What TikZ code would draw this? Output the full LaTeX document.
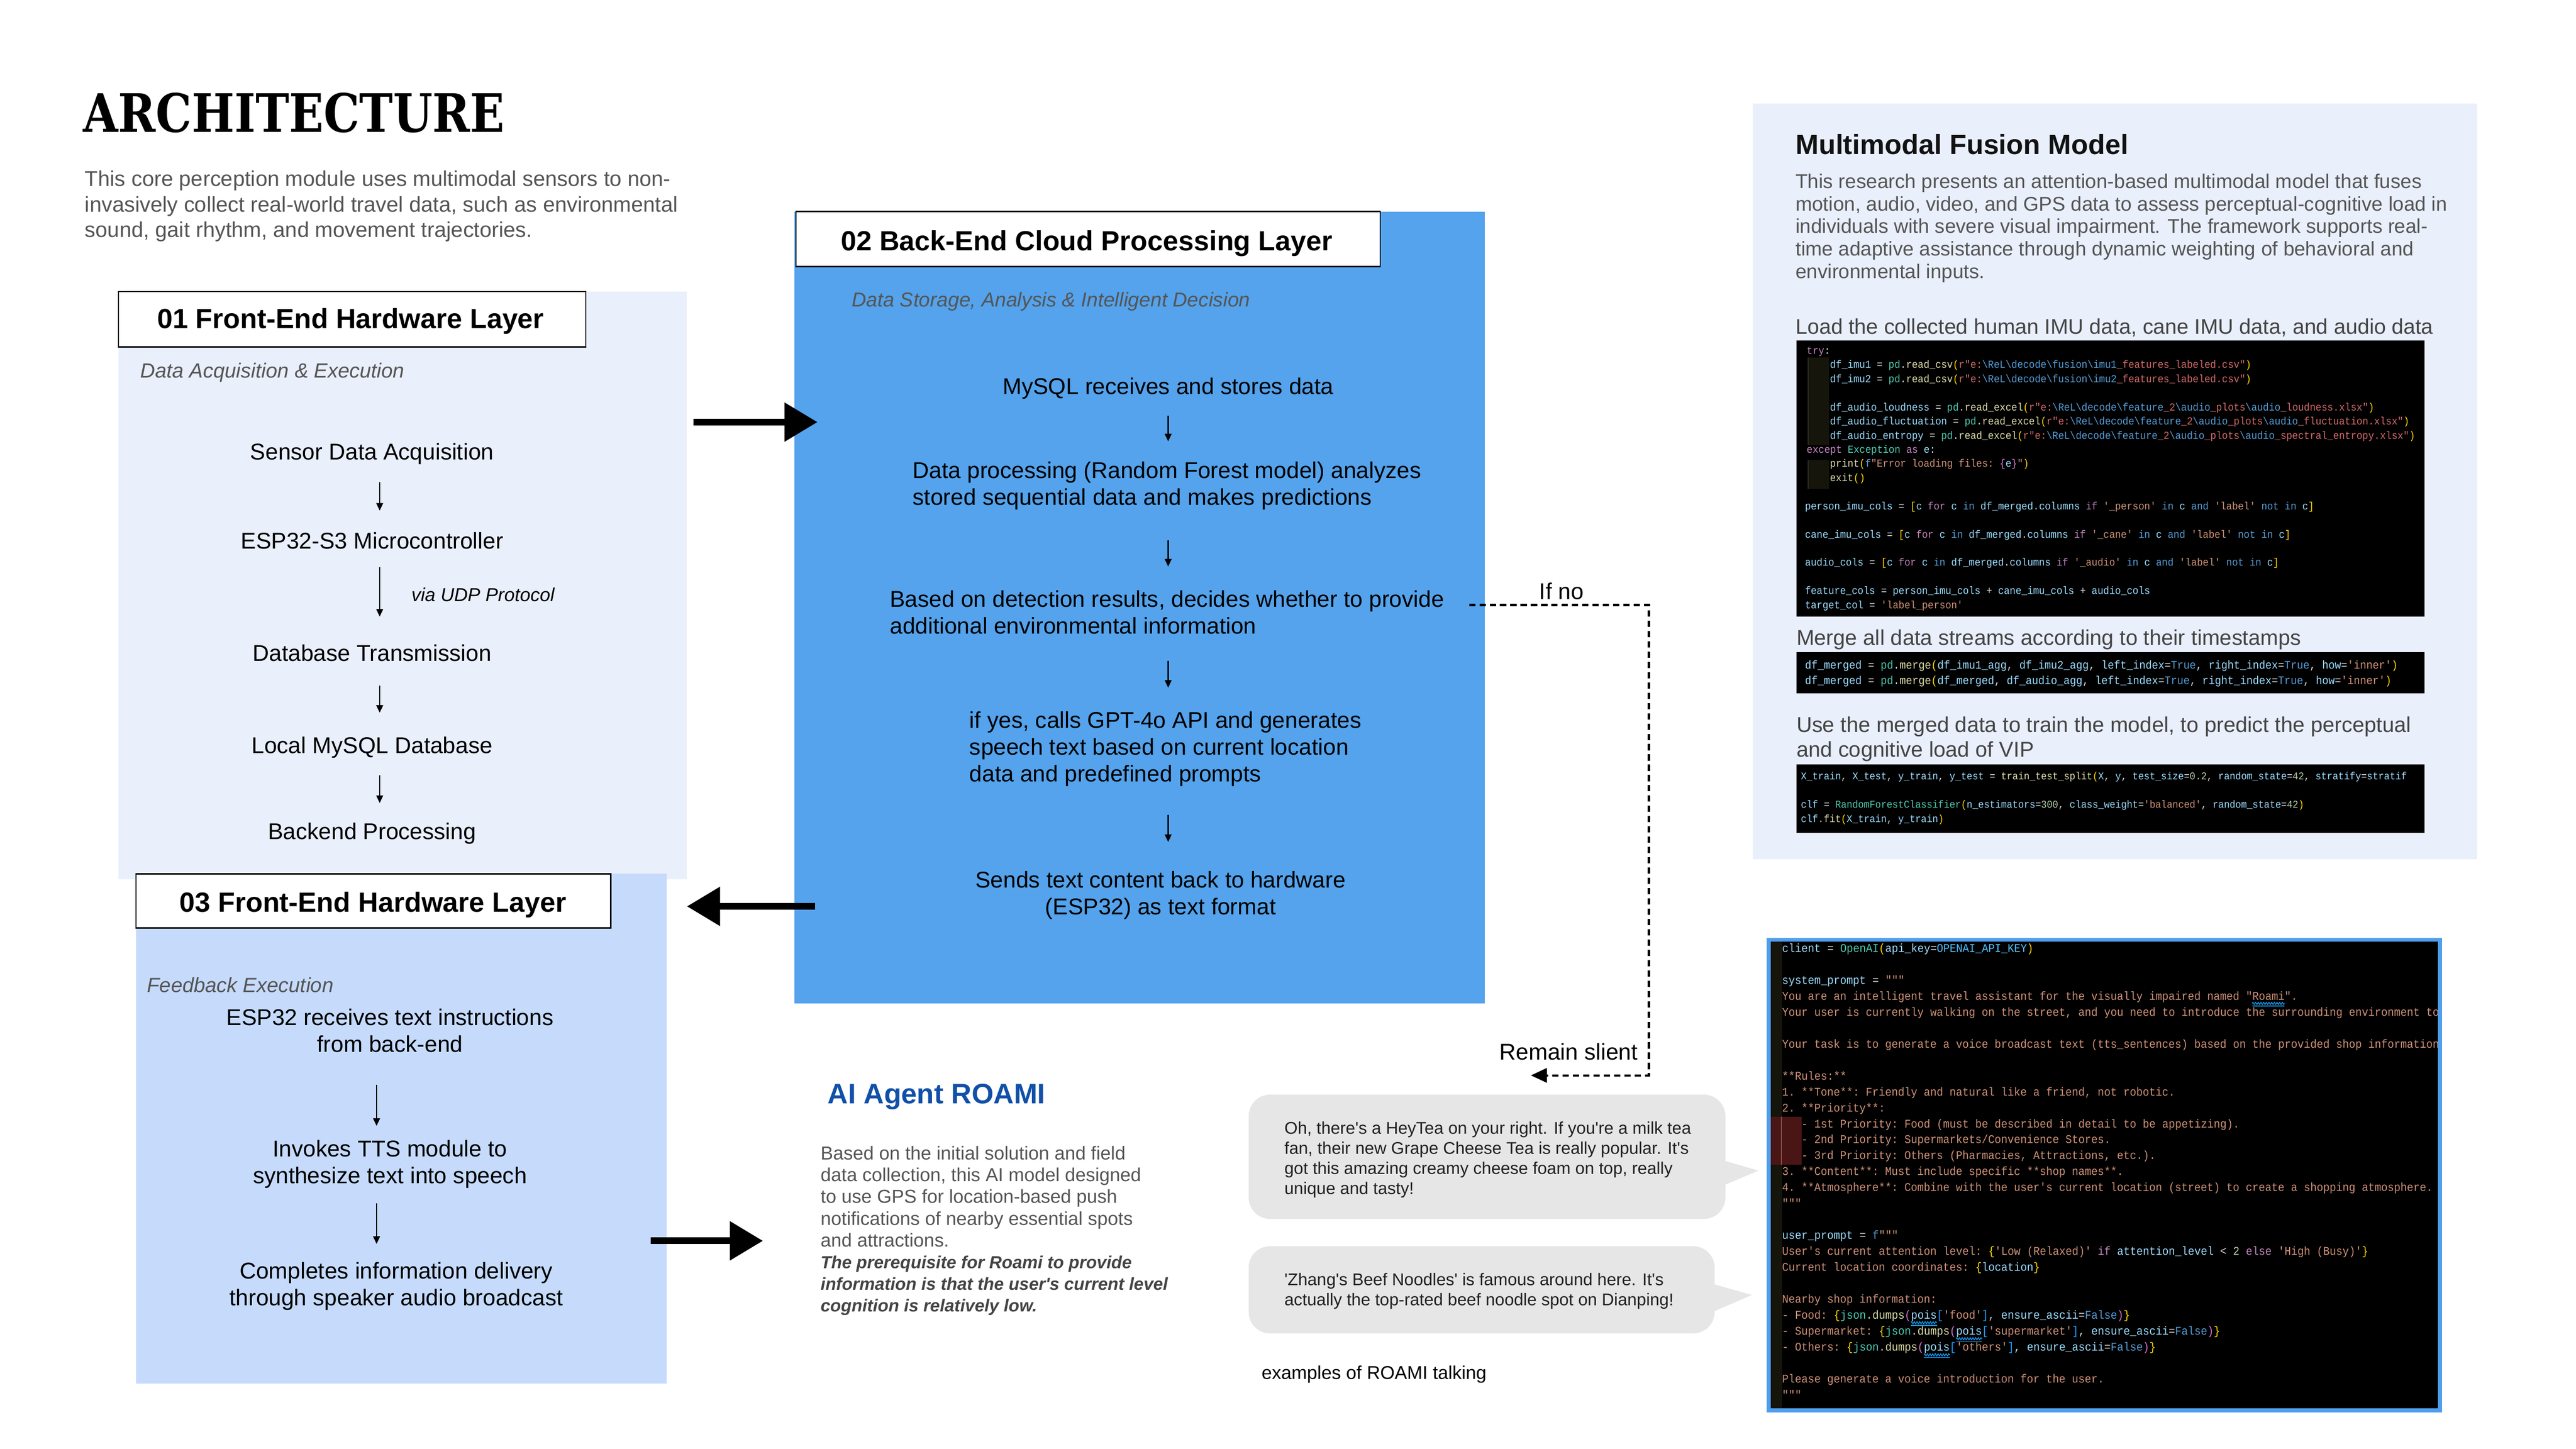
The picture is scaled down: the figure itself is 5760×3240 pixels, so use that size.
\documentclass[tikz,border=0pt]{standalone}
\usepackage{fontspec}
\defaultfontfeatures[\rmfamily,\sffamily]{}
\setmainfont{Liberation Sans}
\setmonofont{Liberation Mono}
\newfontfamily\slabfont{DejaVu Serif}
\usepackage{graphicx}
\usetikzlibrary{arrows.meta,decorations.pathmorphing}

\definecolor{pLight}{HTML}{E9EFFB}
\definecolor{pMid}{HTML}{C6DBFC}
\definecolor{pBlue}{HTML}{54A3EC}
\definecolor{cBorder}{HTML}{4F9FEE}
\definecolor{bub}{HTML}{E6E6E6}
\definecolor{tgray}{HTML}{555555}
\definecolor{tgray2}{HTML}{444444}
\definecolor{aiblue}{HTML}{1150A8}
\definecolor{cvar}{HTML}{9CDCFE}
\definecolor{cfun}{HTML}{DCDCAA}
\definecolor{ccls}{HTML}{4EC9B0}
\definecolor{cstr}{HTML}{CE9178}
\definecolor{creg}{HTML}{D16969}
\definecolor{ckw}{HTML}{C586C0}
\definecolor{cblu}{HTML}{569CD6}
\definecolor{cnum}{HTML}{B5CEA8}
\definecolor{cbya}{HTML}{FFD700}
\definecolor{cbpu}{HTML}{DA70D6}
\definecolor{cbbl}{HTML}{179FFF}
\definecolor{cop}{HTML}{D4D4D4}
\definecolor{cconst}{HTML}{4FC1FF}
\definecolor{cgut}{HTML}{15150B}
\definecolor{cguide}{HTML}{404040}
\definecolor{chl}{HTML}{4A1515}
\definecolor{chll}{HTML}{B07070}

\newcommand\kV[1]{\textcolor{cvar}{#1}}
\newcommand\kF[1]{\textcolor{cfun}{#1}}
\newcommand\kC[1]{\textcolor{ccls}{#1}}
\newcommand\kS[1]{\textcolor{cstr}{#1}}
\newcommand\kR[1]{\textcolor{creg}{#1}}
\newcommand\kK[1]{\textcolor{ckw}{#1}}
\newcommand\kB[1]{\textcolor{cblu}{#1}}
\newcommand\kN[1]{\textcolor{cnum}{#1}}
\newcommand\kY[1]{\textcolor{cbya}{#1}}
\newcommand\kP[1]{\textcolor{cbpu}{#1}}
\newcommand\kL[1]{\textcolor{cbbl}{#1}}
\newcommand\kU[1]{\textcolor{cconst}{#1}}
\newcommand\kbs{\textbackslash}
\newcount\clcnt
\newcommand\cln[3]{\global\advance\clcnt by 1\relax\node[code] (cl\the\clcnt) at (#1,#2) {\scalebox{1}[1.1]{#3}};}
\newcommand\vconn[4]{\coordinate (#1a) at (#2,#3);\coordinate (#1b) at (#2,#4);\draw[smallarrow] (#1a) -- (#1b);}

\tikzset{
  every node/.style={inner sep=0pt, outer sep=0pt},
  panel/.style={anchor=north west},
  titlebox/.style={draw=black, line width=3pt, fill=white, anchor=north west},
  layertitle/.style={anchor=base, font=\fontsize{62}{72}\selectfont\bfseries, text=black},
  body/.style={font=\fontsize{51}{60}\selectfont, text=black},
  bodyc/.style={body, anchor=base, align=center},
  bodyl/.style={body, anchor=base west, align=left},
  subtitle/.style={anchor=base west, font=\fontsize{46}{54}\selectfont\itshape, text=tgray},
  smallarrow/.style={line width=3pt, -{Triangle[length=17pt,width=15pt]}},
  bigarrow/.style={line width=15pt, -{Triangle[length=74pt,width=84pt]}},
  dasharrow/.style={line width=5pt, dash pattern=on 14pt off 9pt, -{Triangle[length=36pt,width=32pt]}},
  mmpara/.style={anchor=base west, align=left, font=\fontsize{44.5}{50.4}\selectfont, text=tgray},
  mmhead/.style={anchor=base west, align=left, font=\fontsize{47.5}{56}\selectfont, text=tgray2},
  aip/.style={anchor=base west, align=left, font=\fontsize{42}{48.5}\selectfont, text=tgray},
  aipb/.style={anchor=base west, align=left, font=\fontsize{39}{48.5}\selectfont\bfseries\itshape, text=tgray2},
  bubtxt/.style={anchor=base west, align=left, font=\fontsize{38}{45}\selectfont, text=black!87},
  code/.style={anchor=base west, text=cop, font=\ttfamily\fontsize{21.8}{26}\selectfont},
  squig/.style={draw=cbbl, line width=1.6pt, decorate, decoration={zigzag, segment length=6pt, amplitude=2.5pt}},
}

\begin{document}
\begin{tikzpicture}[x=1pt,y=-1pt]
\useasboundingbox (0,0) rectangle (5760,3240);
\fill[white] (0,0) rectangle (5760,3240);

% ---------- title ----------
\node[anchor=base west] (title) at (186,295) {\resizebox{942pt}{88pt}{\slabfont\bfseries ARCHITECTURE}};
% multi-line nodes: base anchor = baseline of the last line
\node[anchor=base west, align=left, font=\fontsize{48}{57.5}\selectfont, text=tgray] (intro) at (190,531)
  {This core perception module uses multimodal sensors to non-\\invasively collect real-world travel data, such as environmental\\sound, gait rhythm, and movement trajectories.};

% ---------- panel 01 ----------
\node[panel, fill=pLight, minimum width=1271pt, minimum height=1314pt] (p01) at (265,652) {};
\node[titlebox, minimum width=1045pt, minimum height=124pt] (t01) at (265,652) {};
\node[layertitle] (t01t) at (784,734) {01 Front-End Hardware Layer};
\node[subtitle] (sub01) at (314,845) {Data Acquisition \& Execution};
\node[bodyc] (s1) at (832,1028) {Sensor Data Acquisition};
\node[bodyc] (s2) at (832,1228) {ESP32-S3 Microcontroller};
\node[bodyc] (s3) at (832,1478) {Database Transmission};
\node[bodyc] (s4) at (832,1685) {Local MySQL Database};
\node[bodyc] (s5) at (832,1877) {Backend Processing};
\node[anchor=base west, font=\fontsize{42}{50}\selectfont\itshape] (udp) at (920,1345) {via UDP Protocol};
\vconn{q1}{849}{1078}{1142}
\vconn{q2}{849}{1268}{1379}
\vconn{q3}{849}{1533}{1594}
\vconn{q4}{849}{1734}{1796}

% ---------- panel 03 ----------
\node[panel, fill=pMid, minimum width=1187pt, minimum height=1140pt] (p03) at (304,1954) {};
\node[titlebox, minimum width=1062pt, minimum height=121pt] (t03) at (304,1954) {};
\node[layertitle] (t03t) at (834,2040) {03 Front-End Hardware Layer};
\node[subtitle] (sub03) at (329,2219) {Feedback Execution};
\node[bodyc] (f1) at (872,2353) {ESP32 receives text instructions\\from back-end};
\node[bodyc] (f2) at (872,2647) {Invokes TTS module to\\synthesize text into speech};
\node[bodyc] (f3) at (886,2920) {Completes information delivery\\through speaker audio broadcast};
\vconn{r1}{842}{2426}{2518}
\vconn{r2}{842}{2691}{2782}

% ---------- panel 02 ----------
\node[panel, fill=pBlue, minimum width=1544pt, minimum height=1771pt] (p02) at (1776,473) {};
\node[titlebox, minimum width=1306pt, minimum height=123pt] (t02) at (1780,473) {};
\node[layertitle] (t02t) at (2430,561) {02 Back-End Cloud Processing Layer};
\node[subtitle, font=\fontsize{45}{54}\selectfont\itshape] (sub02) at (1905,686) {Data Storage, Analysis \& Intelligent Decision};
\node[bodyc] (m1) at (2612,882) {MySQL receives and stores data};
\node[bodyl] (m2) at (2041,1130) {Data processing (Random Forest model) analyzes\\stored sequential data and makes predictions};
\node[bodyl] (m3) at (1990,1418) {Based on detection results, decides whether to provide\\additional environmental information};
\node[bodyl] (m4) at (2168,1748) {if yes, calls GPT-4o API and generates\\speech text based on current location\\data and predefined prompts};
\node[bodyc] (m5) at (2595,2045) {Sends text content back to hardware\\(ESP32) as text format};
\vconn{w1}{2612}{930}{987}
\vconn{w2}{2612}{1208}{1267}
\vconn{w3}{2612}{1478}{1538}
\vconn{w4}{2612}{1822}{1883}

% ---------- big arrows ----------
\coordinate (ba1s) at (1550,944);  \coordinate (ba1e) at (1828,944);
\coordinate (ba2s) at (1822,2027); \coordinate (ba2e) at (1536,2027);
\coordinate (ba3s) at (1455,2775); \coordinate (ba3e) at (1706,2775);
\draw[bigarrow] (ba1s) -- (ba1e);
\draw[bigarrow] (ba2s) -- (ba2e);
\draw[bigarrow] (ba3s) -- (ba3e);

% ---------- if no / remain silent ----------
\coordinate (ifs) at (3285,1353);
\coordinate (ifc1) at (3687,1353);
\coordinate (ifc2) at (3687,2405);
\coordinate (rse) at (3423,2405);
\draw[dasharrow] (ifs) -- (ifc1) -- (ifc2) -- (rse);
\node[anchor=base west, font=\fontsize{51}{60}\selectfont] (ifno) at (3442,1340) {If no};
\node[anchor=base west, font=\fontsize{51}{60}\selectfont] (rsil) at (3353,2370) {Remain slient};

% ---------- AI agent ----------
\node[anchor=base west, font=\fontsize{63}{72}\selectfont\bfseries, text=aiblue] (aititle) at (1851,2468) {AI Agent ROAMI};
\node[aip] (ai1) at (1835,2788) {Based on the initial solution and field\\data collection, this AI model designed\\to use GPS for location-based push\\notifications of nearby essential spots\\and attractions.};
\node[aipb] (ai2) at (1835,2933.5) {The prerequisite for Roami to provide\\information is that the user's current level\\cognition is relatively low.};

% ---------- bubbles ----------
\fill[bub, rounded corners=48pt] (2792,2448) rectangle (3858,2726);
\fill[bub] (3856,2596) -- (3932,2618) -- (3856,2650) -- cycle;
\fill[bub, rounded corners=48pt] (2792,2787) rectangle (3834,2982);
\fill[bub] (3832,2872) -- (3917,2896) -- (3832,2933) -- cycle;
\node[bubtxt] (b1) at (2872,2671) {Oh, there's a HeyTea on your right. If you're a milk tea\\fan, their new Grape Cheese Tea is really popular. It's\\got this amazing creamy cheese foam on top, really\\unique and tasty!};
\node[bubtxt] (b2) at (2872,2920) {'Zhang's Beef Noodles' is famous around here. It's\\actually the top-rated beef noodle spot on Dianping!};
\node[anchor=base west, font=\fontsize{41.5}{50}\selectfont] (examples) at (2821,3085) {examples of ROAMI talking};

% ---------- multimodal panel ----------
\node[panel, fill=pLight, minimum width=1620pt, minimum height=1690pt] (pmm) at (3919,231) {};
\node[anchor=base west, font=\fontsize{62}{72}\selectfont\bfseries, text=black!93] (mmtitle) at (4015,345) {Multimodal Fusion Model};
\node[mmpara] (mmp) at (4015,622.6) {This research presents an attention-based multimodal model that fuses\\motion, audio, video, and GPS data to assess perceptual-cognitive load in\\individuals with severe visual impairment. The framework supports real-\\time adaptive assistance through dynamic weighting of behavioral and\\environmental inputs.};
\node[mmhead] (h1) at (4015,747) {Load the collected human IMU data, cane IMU data, and audio data};
\node[mmhead, font=\fontsize{48}{56}\selectfont] (h2) at (4017,1443) {Merge all data streams according to their timestamps};
\node[mmhead, font=\fontsize{48}{56}\selectfont] (h3) at (4017,1693) {Use the merged data to train the model, to predict the perceptual\\and cognitive load of VIP};

% code block 1
\node[panel, fill=black, minimum width=1404pt, minimum height=618pt] (cb1) at (4017,761) {};
\fill[cgut] (4043,800) rectangle (4090,995);
\fill[cgut] (4043,1029) rectangle (4090,1093);
\draw[cguide, line width=1.5pt] (4043,800) -- (4043,995);
\draw[cguide, line width=1.5pt] (4043,1029) -- (4043,1093);
\begin{scope}
\clip (4017,761) rectangle (5421,1379);
\cln{4040}{792}{\kK{try}:}
\cln{4092}{823.6}{\kV{df\_imu1} = \kC{pd}.\kF{read\_csv}\kY{(}\kR{r"e:}\kB{\kbs ReL\kbs decode\kbs fusion\kbs imu1}\kR{\_features\_labeled.csv"}\kY{)}}
\cln{4092}{855.2}{\kV{df\_imu2} = \kC{pd}.\kF{read\_csv}\kY{(}\kR{r"e:}\kB{\kbs ReL\kbs decode\kbs fusion\kbs imu2}\kR{\_features\_labeled.csv"}\kY{)}}
\cln{4092}{918.4}{\kV{df\_audio\_loudness} = \kC{pd}.\kF{read\_excel}\kY{(}\kR{r"e:}\kB{\kbs ReL\kbs decode\kbs feature}\kR{\_2}\kB{\kbs audio}\kR{\_plots}\kB{\kbs audio}\kR{\_loudness.xlsx"}\kY{)}}
\cln{4092}{950}{\kV{df\_audio\_fluctuation} = \kC{pd}.\kF{read\_excel}\kY{(}\kR{r"e:}\kB{\kbs ReL\kbs decode\kbs feature}\kR{\_2}\kB{\kbs audio}\kR{\_plots}\kB{\kbs audio}\kR{\_fluctuation.xlsx"}\kY{)}}
\cln{4092}{981.6}{\kV{df\_audio\_entropy} = \kC{pd}.\kF{read\_excel}\kY{(}\kR{r"e:}\kB{\kbs ReL\kbs decode\kbs feature}\kR{\_2}\kB{\kbs audio}\kR{\_plots}\kB{\kbs audio}\kR{\_spectral\_entropy.xlsx"}\kY{)}}
\cln{4040}{1013.2}{\kK{except} \kC{Exception} \kK{as} \kV{e}:}
\cln{4092}{1044.8}{\kF{print}\kY{(}\kB{f}\kS{"Error loading files: }\kP{\{}\kV{e}\kP{\}}\kS{"}\kY{)}}
\cln{4092}{1076.4}{\kF{exit}\kY{()}}
\cln{4036}{1139.6}{\kV{person\_imu\_cols} = \kY{[}\kV{c} \kK{for} \kV{c} \kB{in} \kV{df\_merged}.\kV{columns} \kK{if} \kS{'\_person'} \kB{in} \kV{c} \kB{and} \kS{'label'} \kB{not} \kB{in} \kV{c}\kY{]}}
\cln{4036}{1202.8}{\kV{cane\_imu\_cols} = \kY{[}\kV{c} \kK{for} \kV{c} \kB{in} \kV{df\_merged}.\kV{columns} \kK{if} \kS{'\_cane'} \kB{in} \kV{c} \kB{and} \kS{'label'} \kB{not} \kB{in} \kV{c}\kY{]}}
\cln{4036}{1266}{\kV{audio\_cols} = \kY{[}\kV{c} \kK{for} \kV{c} \kB{in} \kV{df\_merged}.\kV{columns} \kK{if} \kS{'\_audio'} \kB{in} \kV{c} \kB{and} \kS{'label'} \kB{not} \kB{in} \kV{c}\kY{]}}
\cln{4036}{1329.2}{\kV{feature\_cols} = \kV{person\_imu\_cols} + \kV{cane\_imu\_cols} + \kV{audio\_cols}}
\cln{4036}{1360.8}{\kV{target\_col} = \kS{'label\_person'}}
\end{scope}

% code block 2
\node[panel, fill=black, minimum width=1404pt, minimum height=93pt] (cb2) at (4017,1458) {};
\begin{scope}[code/.append style={font=\ttfamily\fontsize{23.5}{28}\selectfont}]
\clip (4017,1458) rectangle (5421,1551);
\cln{4036}{1496}{\kV{df\_merged} = \kC{pd}.\kF{merge}\kY{(}\kV{df\_imu1\_agg}, \kV{df\_imu2\_agg}, \kV{left\_index}=\kB{True}, \kV{right\_index}=\kB{True}, \kV{how}=\kS{'inner'}\kY{)}}
\cln{4036}{1530}{\kV{df\_merged} = \kC{pd}.\kF{merge}\kY{(}\kV{df\_merged}, \kV{df\_audio\_agg}, \kV{left\_index}=\kB{True}, \kV{right\_index}=\kB{True}, \kV{how}=\kS{'inner'}\kY{)}}
\end{scope}

% code block 3
\node[panel, fill=black, minimum width=1404pt, minimum height=153pt] (cb3) at (4017,1710) {};
\begin{scope}[code/.append style={font=\ttfamily\fontsize{21.3}{26}\selectfont}]
\clip (4017,1710) rectangle (5421,1863);
\cln{4027}{1744}{\kV{X\_train}, \kV{X\_test}, \kV{y\_train}, \kV{y\_test} = \kF{train\_test\_split}\kY{(}\kV{X}, \kV{y}, \kV{test\_size}=\kN{0.2}, \kV{random\_state}=\kN{42}, \kV{stratify}=\kV{stratif}}
\cln{4027}{1807}{\kV{clf} = \kC{RandomForestClassifier}\kY{(}\kV{n\_estimators}=\kN{300}, \kV{class\_weight}=\kS{'balanced'}, \kV{random\_state}=\kN{42}\kY{)}}
\cln{4027}{1839}{\kV{clf}.\kF{fit}\kY{(}\kV{X\_train}, \kV{y\_train}\kY{)}}
\end{scope}

% ---------- code block 4 ----------
\node[panel, fill=cBorder, minimum width=1510pt, minimum height=1061pt] (cb4) at (3950,2098) {};
\fill[black] (3959,2106) rectangle (5451,3150);
\fill[cgut] (3959,2106) rectangle (3985,3150);
\fill[chl] (3959,2497) rectangle (4028,2605);
\draw[chll, line width=1.5pt] (3983,2497) -- (3983,2605);
\begin{scope}[code/.append style={font=\ttfamily\fontsize{24}{30}\selectfont}]
\clip (3959,2106) rectangle (5451,3150);
\cln{3985}{2129}{\kV{client} = \kC{OpenAI}\kY{(}\kV{api\_key}=\kU{OPENAI\_API\_KEY}\kY{)}}
\cln{3985}{2200.4}{\kV{system\_prompt} = \kS{"""}}
\cln{3985}{2236.1}{\kS{You are an intelligent travel assistant for the visually impaired named "Roami".}}
\cln{3985}{2271.8}{\kS{Your user is currently walking on the street, and you need to introduce the surrounding environment to}}
\cln{3985}{2343.2}{\kS{Your task is to generate a voice broadcast text (tts\_sentences) based on the provided shop information}}
\cln{3985}{2414.6}{\kS{**Rules:**}}
\cln{3985}{2450.3}{\kS{1. **Tone**: Friendly and natural like a friend, not robotic.}}
\cln{3985}{2486}{\kS{2. **Priority**:}}
\cln{4028.2}{2521.7}{\kS{- 1st Priority: Food (must be described in detail to be appetizing).}}
\cln{4028.2}{2557.4}{\kS{- 2nd Priority: Supermarkets/Convenience Stores.}}
\cln{4028.2}{2593.1}{\kS{- 3rd Priority: Others (Pharmacies, Attractions, etc.).}}
\cln{3985}{2628.8}{\kS{3. **Content**: Must include specific **shop names**.}}
\cln{3985}{2664.5}{\kS{4. **Atmosphere**: Combine with the user's current location (street) to create a shopping atmosphere.}}
\cln{3985}{2700.2}{\kS{"""}}
\cln{3985}{2771.6}{\kV{user\_prompt} = \kB{f}\kS{"""}}
\cln{3985}{2807.3}{\kS{User's current attention level: }\kY{\{}\kS{'Low (Relaxed)'} \kK{if} \kV{attention\_level} < \kN{2} \kK{else} \kS{'High (Busy)'}\kY{\}}}
\cln{3985}{2843}{\kS{Current location coordinates: }\kY{\{}\kV{location}\kY{\}}}
\cln{3985}{2914.4}{\kS{Nearby shop information:}}
\cln{3985}{2950.1}{\kS{- Food: }\kY{\{}\kC{json}.\kF{dumps}\kP{(}\kV{pois}\kL{[}\kS{'food'}\kL{]}, \kV{ensure\_ascii}=\kB{False}\kP{)}\kY{\}}}
\cln{3985}{2985.8}{\kS{- Supermarket: }\kY{\{}\kC{json}.\kF{dumps}\kP{(}\kV{pois}\kL{[}\kS{'supermarket'}\kL{]}, \kV{ensure\_ascii}=\kB{False}\kP{)}\kY{\}}}
\cln{3985}{3021.5}{\kS{- Others: }\kY{\{}\kC{json}.\kF{dumps}\kP{(}\kV{pois}\kL{[}\kS{'others'}\kL{]}, \kV{ensure\_ascii}=\kB{False}\kP{)}\kY{\}}}
\cln{3985}{3092.9}{\kS{Please generate a voice introduction for the user.}}
\cln{3985}{3128.6}{\kS{"""}}
\end{scope}
% spell-check squiggles
\draw[squig] (5036,2244) -- (5108,2244);
\draw[cbbl, line width=1.6pt] (5036,2250) -- (5108,2250);
\draw[squig] (4273,2958) -- (4331,2958);
\draw[cbbl, line width=1.6pt] (4273,2964) -- (4331,2964);
\draw[squig] (4374,2994) -- (4432,2994);
\draw[cbbl, line width=1.6pt] (4374,3000) -- (4432,3000);
\draw[squig] (4302,3030) -- (4360,3030);
\draw[cbbl, line width=1.6pt] (4302,3036) -- (4360,3036);
\end{tikzpicture}
\end{document}
